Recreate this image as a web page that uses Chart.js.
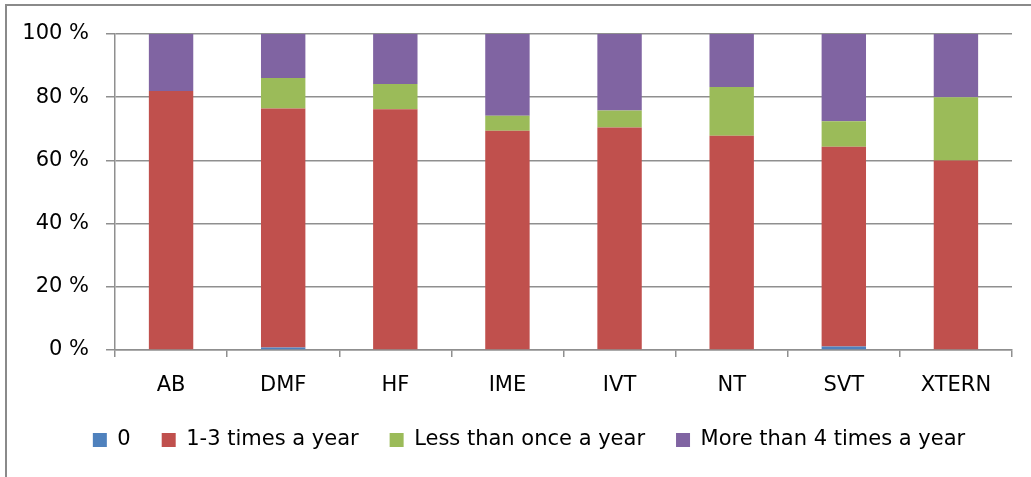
<!DOCTYPE html>
<html>
<head>
<meta charset="utf-8">
<script src="https://cdn.jsdelivr.net/npm/chart.js@4/dist/chart.umd.min.js"></script>
<style>
  html, body { margin: 0; padding: 0; background: #fff; }
  #wrap { position: relative; width: 1031px; height: 477px; }
</style>
</head>
<body>
<div id="wrap"><canvas id="c" width="1031" height="477"></canvas></div>
<script>
const categories = ['AB', 'DMF', 'HF', 'IME', 'IVT', 'NT', 'SVT', 'XTERN'];
const seriesNames = ['0', '1-3 times a year', 'Less than once a year', 'More than 4 times a year'];
const zero      = [0,   0.8,  0,    0,    0,    0,    1.1,  0];
const oneToThree = [82, 75.6, 76.2, 69.4, 70.4, 67.8, 63.2, 60];
const lessOnce  = [0,   9.7,  8.0,  4.7,  5.4,  15.4, 8.1,  20];
const moreFour  = [18,  13.9, 15.8, 25.9, 24.2, 16.8, 27.6, 20];
const yTicks = [0, 20, 40, 60, 80, 100];
const colors = ['#4F81BD', '#C0504D', '#9BBB59', '#8064A2'];

const FONT = 'DejaVu Sans';
const GRID = '#8f8f8f';

const framePlugin = {
  id: 'frame',
  afterLayout(chart) {
    const lg = chart.legend;
    if (lg) { lg.left += 13; lg.right += 13; }
  },
  beforeDraw(chart) {
    const ctx = chart.ctx;
    ctx.save();
    ctx.fillStyle = '#fff';
    ctx.fillRect(0, 0, chart.width, chart.height);
    ctx.strokeStyle = '#8a8a8a';
    ctx.lineWidth = 2;
    ctx.beginPath();
    ctx.moveTo(6, 477);
    ctx.lineTo(6, 5);
    ctx.lineTo(1031, 5);
    ctx.stroke();
    ctx.restore();
  }
};

const seriesData = [zero, oneToThree, lessOnce, moreFour];
new Chart(document.getElementById('c'), {
  type: 'bar',
  data: {
    labels: categories,
    datasets: seriesNames.map((n, i) => ({
      label: n,
      data: seriesData[i],
      backgroundColor: colors[i],
      borderWidth: 0,
      categoryPercentage: 1,
      barPercentage: 0.396
    }))
  },
  options: {
    responsive: false,
    animation: false,
    devicePixelRatio: 1,
    layout: { padding: { left: 20, right: 19, top: 34, bottom: 16.5 } },
    plugins: {
      tooltip: { enabled: false },
      legend: {
        position: 'bottom',
        labels: {
          boxWidth: 14, boxHeight: 14, padding: 31,
          color: '#000',
          font: { family: FONT, size: 21 }
        }
      }
    },
    scales: {
      x: {
        stacked: true,
        afterFit(s) { s.height = 48.5; },
        grid: { offset: true, drawOnChartArea: false, drawTicks: true, tickLength: 7, color: GRID, lineWidth: 1.5 },
        border: { color: GRID, width: 1.5 },
        ticks: { color: '#000', font: { family: FONT, size: 21 }, padding: 16 }
      },
      y: {
        stacked: true,
        min: 0, max: 100,
        afterFit(s) { s.width = 115 - 20; },
        afterBuildTicks(s) { s.ticks = yTicks.map(v => ({ value: v })); },
        grid: { color: GRID, lineWidth: 1.5, tickLength: 9 },
        border: { color: GRID, width: 1.5 },
        ticks: {
          color: '#000', font: { family: FONT, size: 21 }, padding: 17,
          callback: v => v + ' %'
        }
      }
    }
  },
  plugins: [framePlugin]
});
</script>
</body>
</html>
